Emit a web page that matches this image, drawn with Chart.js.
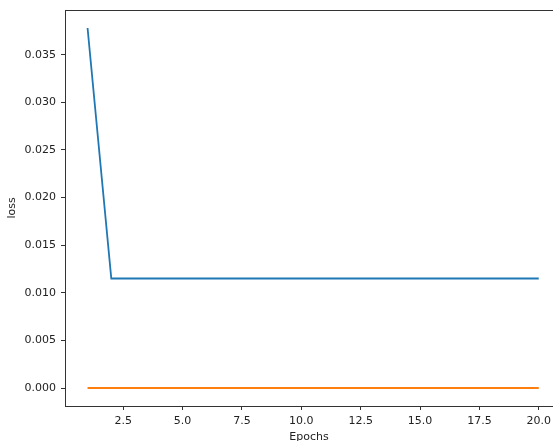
<!DOCTYPE html>
<html>
<head>
<meta charset="utf-8">
<script src="https://cdn.jsdelivr.net/npm/chart.js@4/dist/chart.umd.min.js"></script>
<style>
html,body{margin:0;padding:0;background:#fff;overflow:hidden;width:553px;height:441px;}
canvas{display:block;}
</style>
</head>
<body>
<canvas id="c" width="553" height="441"></canvas>
<script>
const epochs = [1,2,3,4,5,6,7,8,9,10,11,12,13,14,15,16,17,18,19,20];
const trainLoss = [0.0378,0.0115,0.0115,0.0115,0.0115,0.0115,0.0115,0.0115,0.0115,0.0115,0.0115,0.0115,0.0115,0.0115,0.0115,0.0115,0.0115,0.0115,0.0115,0.0115];
const valLoss = [0,0,0,0,0,0,0,0,0,0,0,0,0,0,0,0,0,0,0,0];
const xTicks = [2.5,5.0,7.5,10.0,12.5,15.0,17.5,20.0];
const yTicks = [0.000,0.005,0.010,0.015,0.020,0.025,0.030,0.035];

const font = {family:'"DejaVu Sans", sans-serif', size:11};
const ink = '#222';

const spines = {
  id:'spines',
  afterDraw(chart){
    const a = chart.chartArea, ctx = chart.ctx;
    ctx.save();
    ctx.strokeStyle = '#333';
    ctx.lineWidth = 1;
    ctx.beginPath();
    ctx.moveTo(a.left, a.top+0.5);
    ctx.lineTo(a.right, a.top+0.5);
    ctx.stroke();
    ctx.restore();
  }
};

new Chart(document.getElementById('c'), {
  type:'line',
  data:{
    datasets:[
      {label:'loss', data:epochs.map((e,i)=>({x:e,y:trainLoss[i]})), borderColor:'#1f77b4', borderWidth:1.8, pointRadius:0, tension:0, fill:false},
      {label:'val_loss', data:epochs.map((e,i)=>({x:e,y:valLoss[i]})), borderColor:'#ff7f0e', borderWidth:1.8, pointRadius:0, tension:0, fill:false}
    ]
  },
  options:{
    responsive:false,
    animation:false,
    devicePixelRatio:1,
    layout:{padding:{top:10,left:0,right:0,bottom:0}},
    plugins:{legend:{display:false},tooltip:{enabled:false}},
    scales:{
      x:{
        type:'linear',
        min:0.05, max:20.6,
        afterBuildTicks(s){ s.ticks = xTicks.map(v=>({value:v})); },
        afterFit(s){ s.height = 35; s.paddingLeft = 0; s.paddingRight = 0; },
        ticks:{font, color:ink, padding:5, callback:v=>Number(v).toFixed(1)},
        grid:{drawOnChartArea:false, drawTicks:true, tickLength:4, color:'#333'},
        border:{display:true, color:'#333', width:1},
        title:{display:true, text:'Epochs', font, color:ink, padding:{top:0,bottom:-3}}
      },
      y:{
        type:'linear',
        min:-0.00189, max:0.03969,
        afterBuildTicks(s){ s.ticks = yTicks.map(v=>({value:v})); },
        afterFit(s){ s.width = 65; s.paddingTop = 0; s.paddingBottom = 0; },
        ticks:{font, color:ink, padding:5, callback:v=>Number(v).toFixed(3)},
        grid:{drawOnChartArea:false, drawTicks:true, tickLength:4, color:'#333'},
        border:{display:true, color:'#333', width:1},
        title:{display:true, text:'loss', font, color:ink, padding:{top:6,bottom:0}}
      }
    }
  },
  plugins:[spines]
});
</script>
</body>
</html>
